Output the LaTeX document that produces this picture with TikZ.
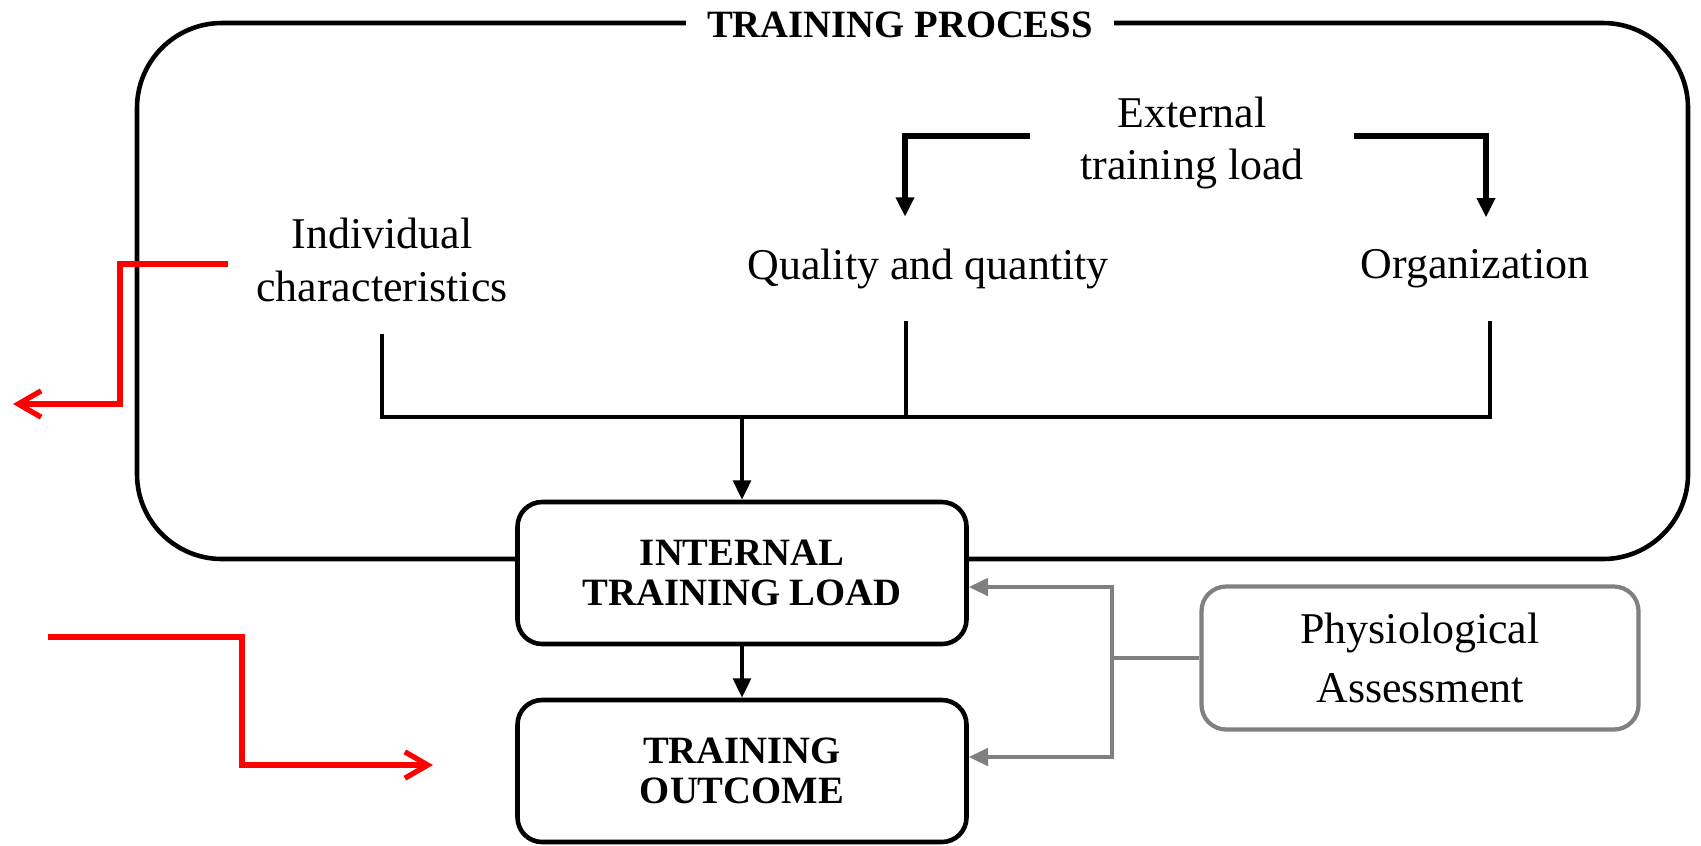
\documentclass[tikz,border=0pt]{standalone}
\usepackage{fontspec}
\setmainfont{Liberation Serif}
\usetikzlibrary{arrows,arrows.meta}

\tikzset{
  plain/.style={align=center, inner ysep=9pt, font=\fontsize{12.5}{15}\selectfont},
  loadbox/.style={draw, line width=1.3pt, rounded corners=7pt, fill=white,
    minimum width=4.49cm, minimum height=1.42cm, align=center,
    font=\fontsize{11}{11.5}\selectfont\bfseries},
  assessbox/.style={draw=gray, line width=1.2pt, rounded corners=7pt,
    minimum width=4.37cm, minimum height=1.43cm, align=center,
    font=\fontsize{12.5}{17}\selectfont},
  link/.style={line width=1.1pt},
  graylink/.style={line width=1pt, draw=gray},
  redlink/.style={red, line width=1.5pt, -{Straight Barb[length=6.5pt,width=7.5pt]}}
}

\begin{document}
\begin{tikzpicture}[>={Triangle[length=5.5pt,width=5pt]}]
 \useasboundingbox (0,0) rectangle (17.01,-8.45);
 % training process frame
 \draw [line width=1.3pt, rounded corners=0.85cm] (1.37,-0.23) rectangle (16.88,-5.59);
 \node [fill=white, inner xsep=6pt, inner ysep=1pt, font=\fontsize{11}{13}\selectfont\bfseries] (title) at (9.00,-0.25) {TRAINING PROCESS};

 \node [plain, inner xsep=14pt] (ext) at (11.92,-1.43) {External\\training load};
 \node [plain] (indiv) at (3.82,-2.60) {Individual\\characteristics};
 \node [plain] (qq) at (9.28,-2.69) {Quality and quantity};
 \node [plain] (org) at (14.75,-2.69) {Organization};

 \node [loadbox] (itl) at (7.42,-5.73) {INTERNAL\\TRAINING LOAD};
 \node [loadbox] (out) at (7.42,-7.71) {TRAINING\\OUTCOME};
 \node [assessbox] (phys) at (14.20,-6.58) {Physiological\\Assessment};

 \coordinate (merge) at (7.42,-4.17);
 \coordinate (fork) at (11.12,-6.58);

 % external load
 \draw [link, line width=1.5pt, ->] ([yshift=2pt]ext.west) -| ([xshift=-0.23cm]qq.north);
 \draw [link, line width=1.5pt, ->] ([yshift=2pt]ext.east) -| ([xshift=0.11cm]org.north);

 % into internal load
 \draw [link] (indiv.south) |- (merge) -| ([xshift=0.15cm]org.south);
 \draw [link] ([xshift=-0.22cm]qq.south) -- ([xshift=-0.22cm]qq.south |- merge);
 \draw [link, ->] (merge) -- (itl.north);
 \draw [link, ->] (itl) -- (out);

 % assessment
 \draw [graylink] (phys.west) -- (fork);
 \draw [graylink, ->] (fork) |- ([yshift=-0.14cm]itl.east);
 \draw [graylink, ->] (fork) |- ([yshift=0.14cm]out.east);

 % red markers
 \coordinate (redA) at (2.28,-2.64);
 \coordinate (redAend) at (0.13,-4.04);
 \coordinate (redB) at (0.48,-6.37);
 \coordinate (redBend) at (4.33,-7.65);
 \draw [redlink] (redA) -- ++(-1.08,0) |- (redAend);
 \draw [redlink] (redB) -- ++(1.94,0) |- (redBend);
\end{tikzpicture}
\end{document}
